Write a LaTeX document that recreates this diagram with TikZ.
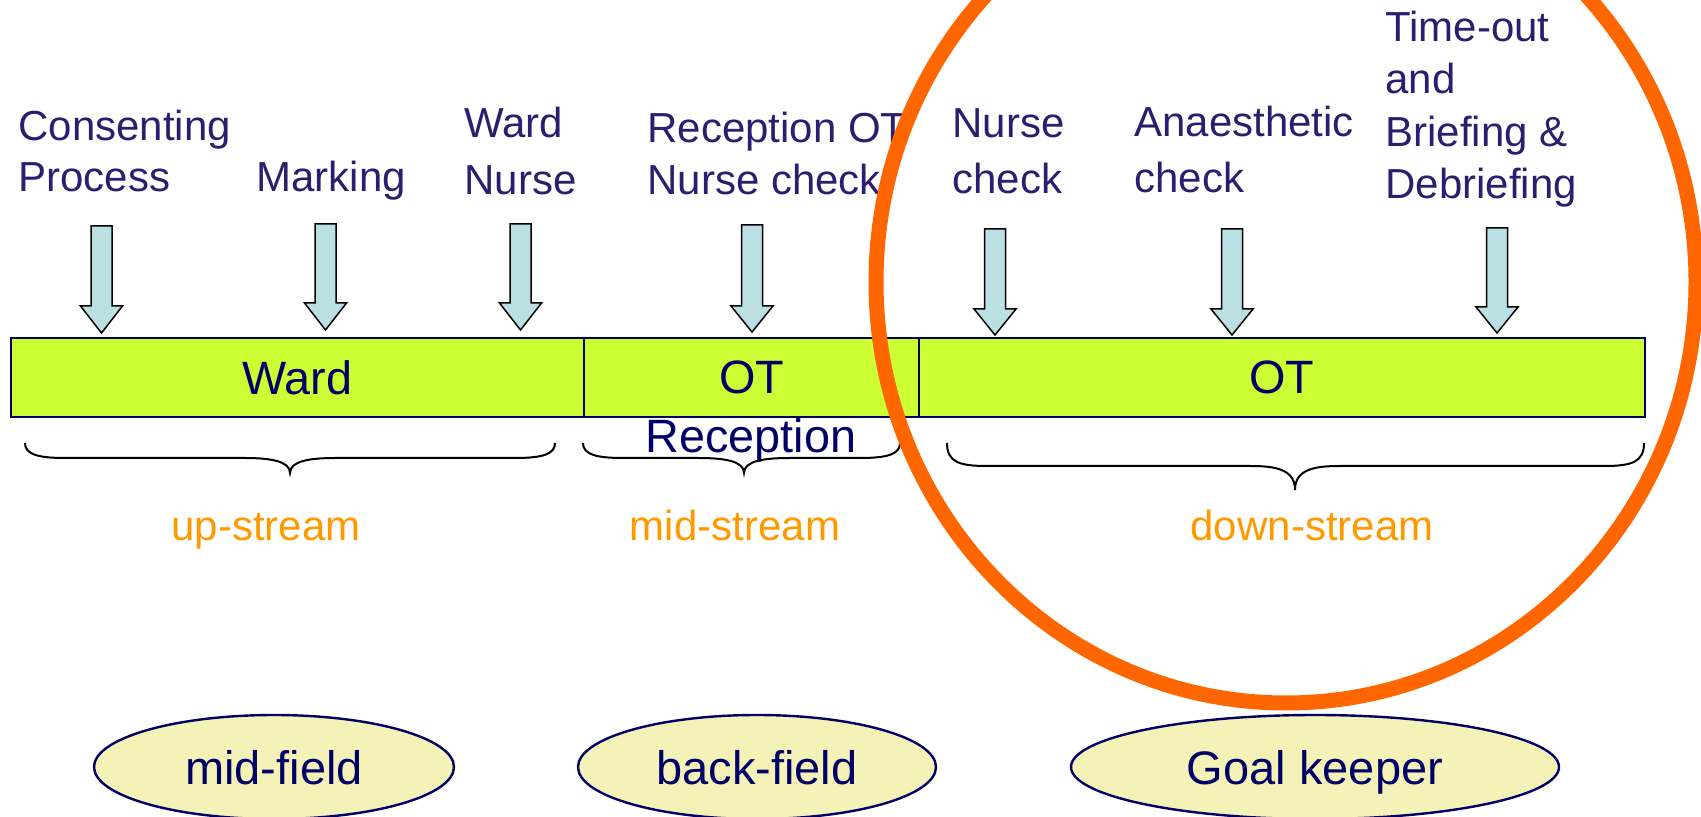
\documentclass[tikz,border=0pt]{standalone}
\usepackage{fontspec}
\setmainfont{Liberation Sans}
\usetikzlibrary{shapes.geometric}
\definecolor{labelc}{RGB}{44,30,110}
\definecolor{navy}{RGB}{0,0,102}
\definecolor{barfill}{RGB}{204,255,51}
\definecolor{arrowfill}{RGB}{187,224,227}
\definecolor{streamc}{RGB}{255,153,0}
\definecolor{ringc}{RGB}{255,102,0}
\definecolor{ellfill}{RGB}{244,242,182}
% block arrow: x, top, head start, tip
\newcommand\blockarrow[4]{%
  \draw[arrowsty] ({#1-10.5},#2) -- ({#1+10.5},#2) -- ({#1+10.5},#3) -- ({#1+21},#3)
    -- (#1,#4) -- ({#1-21},#3) -- ({#1-10.5},#3) -- cycle;}
% brace: x0, x1, xm, ytop, ymid, ytip
\newcommand\drawbrace[6]{%
  \draw[bracesty] (#1,#4) .. controls (#1,{#5-4}) and ({#1+12},#5) .. ({#1+40},#5)
    -- ({#3-45},#5) .. controls ({#3-20},#5) and (#3,{#5+3}) .. (#3,#6)
    .. controls (#3,{#5+3}) and ({#3+20},#5) .. ({#3+45},#5)
    -- ({#2-40},#5) .. controls ({#2-12},#5) and (#2,{#5-4}) .. (#2,#4);}
\begin{document}
\begin{tikzpicture}[x=0.5pt,y=-0.5pt,
  labelsty/.style={anchor=base west, align=left, inner sep=0pt, text=labelc,
    font=\fontsize{21}{#1}\selectfont},
  labelsty/.default=27pt,
  barsty/.style={draw=navy, line width=1pt, fill=barfill, minimum height=39.5pt,
    inner sep=0pt, text=navy, font=\fontsize{23.4}{28}\selectfont, anchor=north west},
  navytext/.style={text=navy, inner sep=0pt, font=\fontsize{23.4}{28}\selectfont},
  arrowsty/.style={draw=black, line width=0.75pt, fill=arrowfill, line join=miter},
  bracesty/.style={draw=black, line width=1pt},
  streamsty/.style={text=streamc, inner sep=0pt, anchor=base, font=\fontsize{21}{26}\selectfont},
  ellsty/.style={ellipse, draw=navy, line width=1.2pt, fill=ellfill, text=navy,
    font=\fontsize{23.5}{28}\selectfont, inner sep=0pt, text depth=0pt, minimum height=52pt},
  ringsty/.style={draw=ringc, line width=7.5pt}]
\useasboundingbox (0,0) rectangle (1701,817);
\clip (0,0) rectangle (1701,817);
% labels (anchored at the baseline of the last line)
\node[labelsty=25.5pt] (lab1) at (18,192) {Consenting\\Process};
\node[labelsty] (lab2) at (256,192) {Marking};
\node[labelsty=28.5pt] (lab3) at (464,195) {Ward\\Nurse};
\node[labelsty=26pt] (lab4) at (647,195) {Reception OT\\Nurse check};
\node[labelsty=28pt] (lab5) at (952,194) {Nurse\\check};
\node[labelsty=28pt] (lab6) at (1134,193) {Anaesthetic\\check};
\node[labelsty=26.3pt] (lab7) at (1385,199) {Time-out\\and\\Briefing \&\\Debriefing};
% arrows
\blockarrow{101.5}{226}{306}{333}
\blockarrow{325.5}{224}{303}{330}
\blockarrow{520.5}{224}{303}{330}
\blockarrow{752}{225}{306}{332}
\blockarrow{995}{229}{309}{335}
\blockarrow{1232}{229}{309}{335}
\blockarrow{1497}{228}{307}{333}
% bar
\node[barsty, minimum width=286.5pt] (ward) at (10,337) {Ward};
\node[barsty, minimum width=167.5pt] (ot1) at (583,337) {OT};
\node[barsty, minimum width=363pt] (ot2) at (918,337) {OT};
\node[navytext, anchor=base] (recep) at (751,453) {Reception};
% braces
\drawbrace{25}{555}{290}{443}{458}{473}
\drawbrace{583}{900}{744}{443}{458}{473}
\drawbrace{947}{1644}{1295}{443}{466}{490}
% stream labels
\node[streamsty] (up) at (266,540) {up-stream};
\node[streamsty] (mid) at (735,540) {mid-stream};
\node[streamsty] (down) at (1312,540) {down-stream};
% ellipses
\node[ellsty, minimum width=180pt] (midf) at (274,767) {mid-field};
\node[ellsty, minimum width=179pt] (backf) at (757,767) {back-field};
\node[ellsty, minimum width=244pt] (goal) at (1315,767) {Goal keeper};
% ring
\draw[ringsty] (1286,282) ellipse [x radius=410, y radius=421];
\end{tikzpicture}
\end{document}
